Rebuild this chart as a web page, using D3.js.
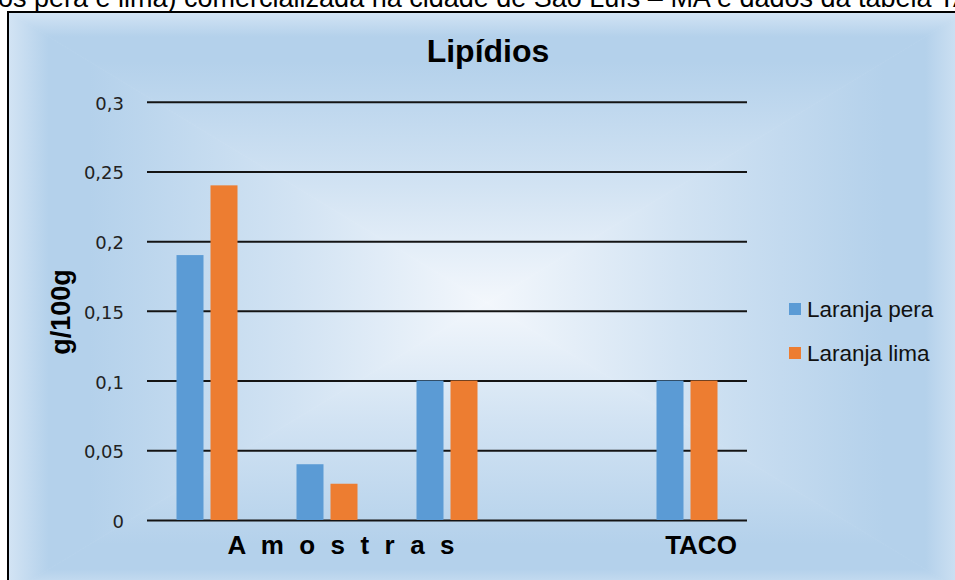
<!DOCTYPE html>
<html>
<head>
<meta charset="utf-8">
<script src="https://cdn.jsdelivr.net/npm/d3@7"></script>
<style>
  html, body { margin: 0; padding: 0; background: #ffffff; overflow: hidden; }
  svg { display: block; }
</style>
</head>
<body>
<svg id="chart" width="955" height="580"></svg>
<script>
// Lipid content (g/100g) of orange juice samples and the TACO reference table
const categories = ["Amostra 1", "Amostra 2", "Amostra 3", "vazio", "TACO"];
const seriesNames = ["Laranja pera", "Laranja lima"];
const seriesColors = ["#5b9bd5", "#ed7d31"];
const peraValues = [0.19, 0.04, 0.1, null, 0.1];
const limaValues = [0.24, 0.026, 0.1, null, 0.1];
const yTicks = [0, 0.05, 0.1, 0.15, 0.2, 0.25, 0.3];
const groupLabels = ["A m o s t r a s", "TACO"];
const groupSpans = [[0, 2], [4, 4]];
const captionText = "os pera e lima) comercializada na cidade de São Luís – MA e dados da tabela TACO";

const svg = d3.select("#chart");

// frame of the chart object
const box = { x0: 8, y0: 12, x1: 966, y1: 594 };
const cx = (box.x0 + box.x1) / 2, cy = (box.y0 + box.y1) / 2;

const defs = svg.append("defs");
const edgeColor = "#d3e4f4", midColor = "#b4d1eb", centerColor = "#f3f7fc";

// rectangular "from centre" gradient built from four triangles
const band = 0.085;
const sides = [
  { id: "gTop", pts: [[box.x0, box.y0], [box.x1, box.y0], [cx, cy]], from: [cx, box.y0] },
  { id: "gBottom", pts: [[box.x0, box.y1], [box.x1, box.y1], [cx, cy]], from: [cx, box.y1] },
  { id: "gLeft", pts: [[box.x0, box.y0], [box.x0, box.y1], [cx, cy]], from: [box.x0, cy] },
  { id: "gRight", pts: [[box.x1, box.y0], [box.x1, box.y1], [cx, cy]], from: [box.x1, cy] }
];
sides.forEach(s => {
  const g = defs.append("linearGradient")
    .attr("id", s.id)
    .attr("gradientUnits", "userSpaceOnUse")
    .attr("x1", s.from[0]).attr("y1", s.from[1])
    .attr("x2", cx).attr("y2", cy);
  g.append("stop").attr("offset", 0).attr("stop-color", edgeColor);
  g.append("stop").attr("offset", band).attr("stop-color", midColor);
  g.append("stop").attr("offset", band * 2).attr("stop-color", midColor);
  g.append("stop").attr("offset", 0.6).attr("stop-color", "#d2e3f3");
  g.append("stop").attr("offset", 1).attr("stop-color", centerColor);
});

const bg = svg.append("g");
sides.forEach(s => {
  bg.append("path")
    .attr("d", "M" + s.pts.map(p => p.join(",")).join("L") + "Z")
    .attr("fill", `url(#${s.id})`)
    .attr("stroke", `url(#${s.id})`)
    .attr("stroke-width", 0.8);
});
svg.append("rect")
  .attr("x", box.x0).attr("y", box.y0)
  .attr("width", box.x1 - box.x0).attr("height", box.y1 - box.y0)
  .attr("fill", "none").attr("stroke", "#000").attr("stroke-width", 2);

// caption line of the surrounding document, cut by the page top
svg.append("text")
  .attr("x", -2).attr("y", 6.5)
  .attr("font-family", "Liberation Sans, Arial, sans-serif")
  .attr("font-size", 27)
  .attr("fill", "#000")
  .text(captionText);

// scales
const plot = { left: 147, right: 747, top: 101.7, bottom: 520 };
const x = d3.scaleBand().domain(categories).range([plot.left, plot.right]);
const x1 = d3.scaleBand().domain(seriesNames)
  .range([x.bandwidth() / 2 - 30.5, x.bandwidth() / 2 + 30.5])
  .paddingInner(0.206);
const y = d3.scaleLinear().domain([0, 0.3]).range([plot.bottom, plot.top]);

const ptBR = d3.formatLocale({ decimal: ",", thousands: ".", grouping: [3], currency: ["R$", ""] });
const fmt = ptBR.format("~g");

// value axis with full-width gridlines
const yAxis = d3.axisLeft(y)
  .tickValues(yTicks)
  .tickSize(-(plot.right - plot.left))
  .tickPadding(23)
  .tickFormat(fmt);
const ga = svg.append("g")
  .attr("transform", `translate(${plot.left},0)`)
  .call(yAxis);
ga.select(".domain").remove();
ga.selectAll(".tick line").attr("stroke", "#141414").attr("stroke-width", 2);
ga.selectAll(".tick text")
  .attr("font-family", "DejaVu Sans, sans-serif")
  .attr("font-size", 18)
  .attr("fill", "#222")
  .attr("dy", "0.42em");

// bars
const rows = categories.map((c, i) => ({ cat: c, vals: [peraValues[i], limaValues[i]] }));
const groups = svg.append("g").selectAll("g")
  .data(rows).join("g")
  .attr("transform", d => `translate(${x(d.cat)},0)`);
groups.selectAll("rect")
  .data(d => d.vals.map((v, k) => ({ name: seriesNames[k], v, k })).filter(e => e.v != null))
  .join("rect")
  .attr("x", e => x1(e.name))
  .attr("width", x1.bandwidth())
  .attr("y", e => y(e.v))
  .attr("height", e => y(0) - y(e.v))
  .attr("fill", e => seriesColors[e.k]);

// category group labels below the axis
svg.append("g").selectAll("text")
  .data(groupLabels.map((t, i) => ({ t, span: groupSpans[i] })))
  .join("text")
  .attr("x", d => (x(categories[d.span[0]]) + x(categories[d.span[1]]) + x.bandwidth()) / 2 + 14)
  .attr("y", 554)
  .attr("text-anchor", "middle")
  .attr("font-family", "Liberation Sans, Arial, sans-serif")
  .attr("font-weight", "bold")
  .attr("font-size", 26)
  .attr("fill", "#000")
  .each(function (d) {
    if (d.span[1] > d.span[0]) {
      d3.select(this).attr("textLength", 227).attr("lengthAdjust", "spacing");
    }
  })
  .text(d => d.t);

// title
svg.append("text")
  .attr("x", 488).attr("y", 62)
  .attr("text-anchor", "middle")
  .attr("font-family", "Liberation Sans, Arial, sans-serif")
  .attr("font-weight", "bold")
  .attr("font-size", 32)
  .attr("fill", "#000")
  .text("Lipídios");

// value axis title
svg.append("text")
  .attr("transform", "translate(70,312) rotate(-90)")
  .attr("text-anchor", "middle")
  .attr("font-family", "Liberation Sans, Arial, sans-serif")
  .attr("font-weight", "bold")
  .attr("font-size", 27)
  .attr("fill", "#000")
  .text("g/100g");

// legend
const legend = svg.append("g").selectAll("g")
  .data(seriesNames).join("g")
  .attr("transform", (d, i) => `translate(789,${303 + i * 44})`);
legend.append("rect")
  .attr("width", 12).attr("height", 12)
  .attr("fill", (d, i) => seriesColors[i]);
legend.append("text")
  .attr("x", 18).attr("y", 13.5)
  .attr("font-family", "Liberation Sans, Arial, sans-serif")
  .attr("font-size", 22.5)
  .attr("fill", "#111")
  .text(d => d);
</script>
</body>
</html>
